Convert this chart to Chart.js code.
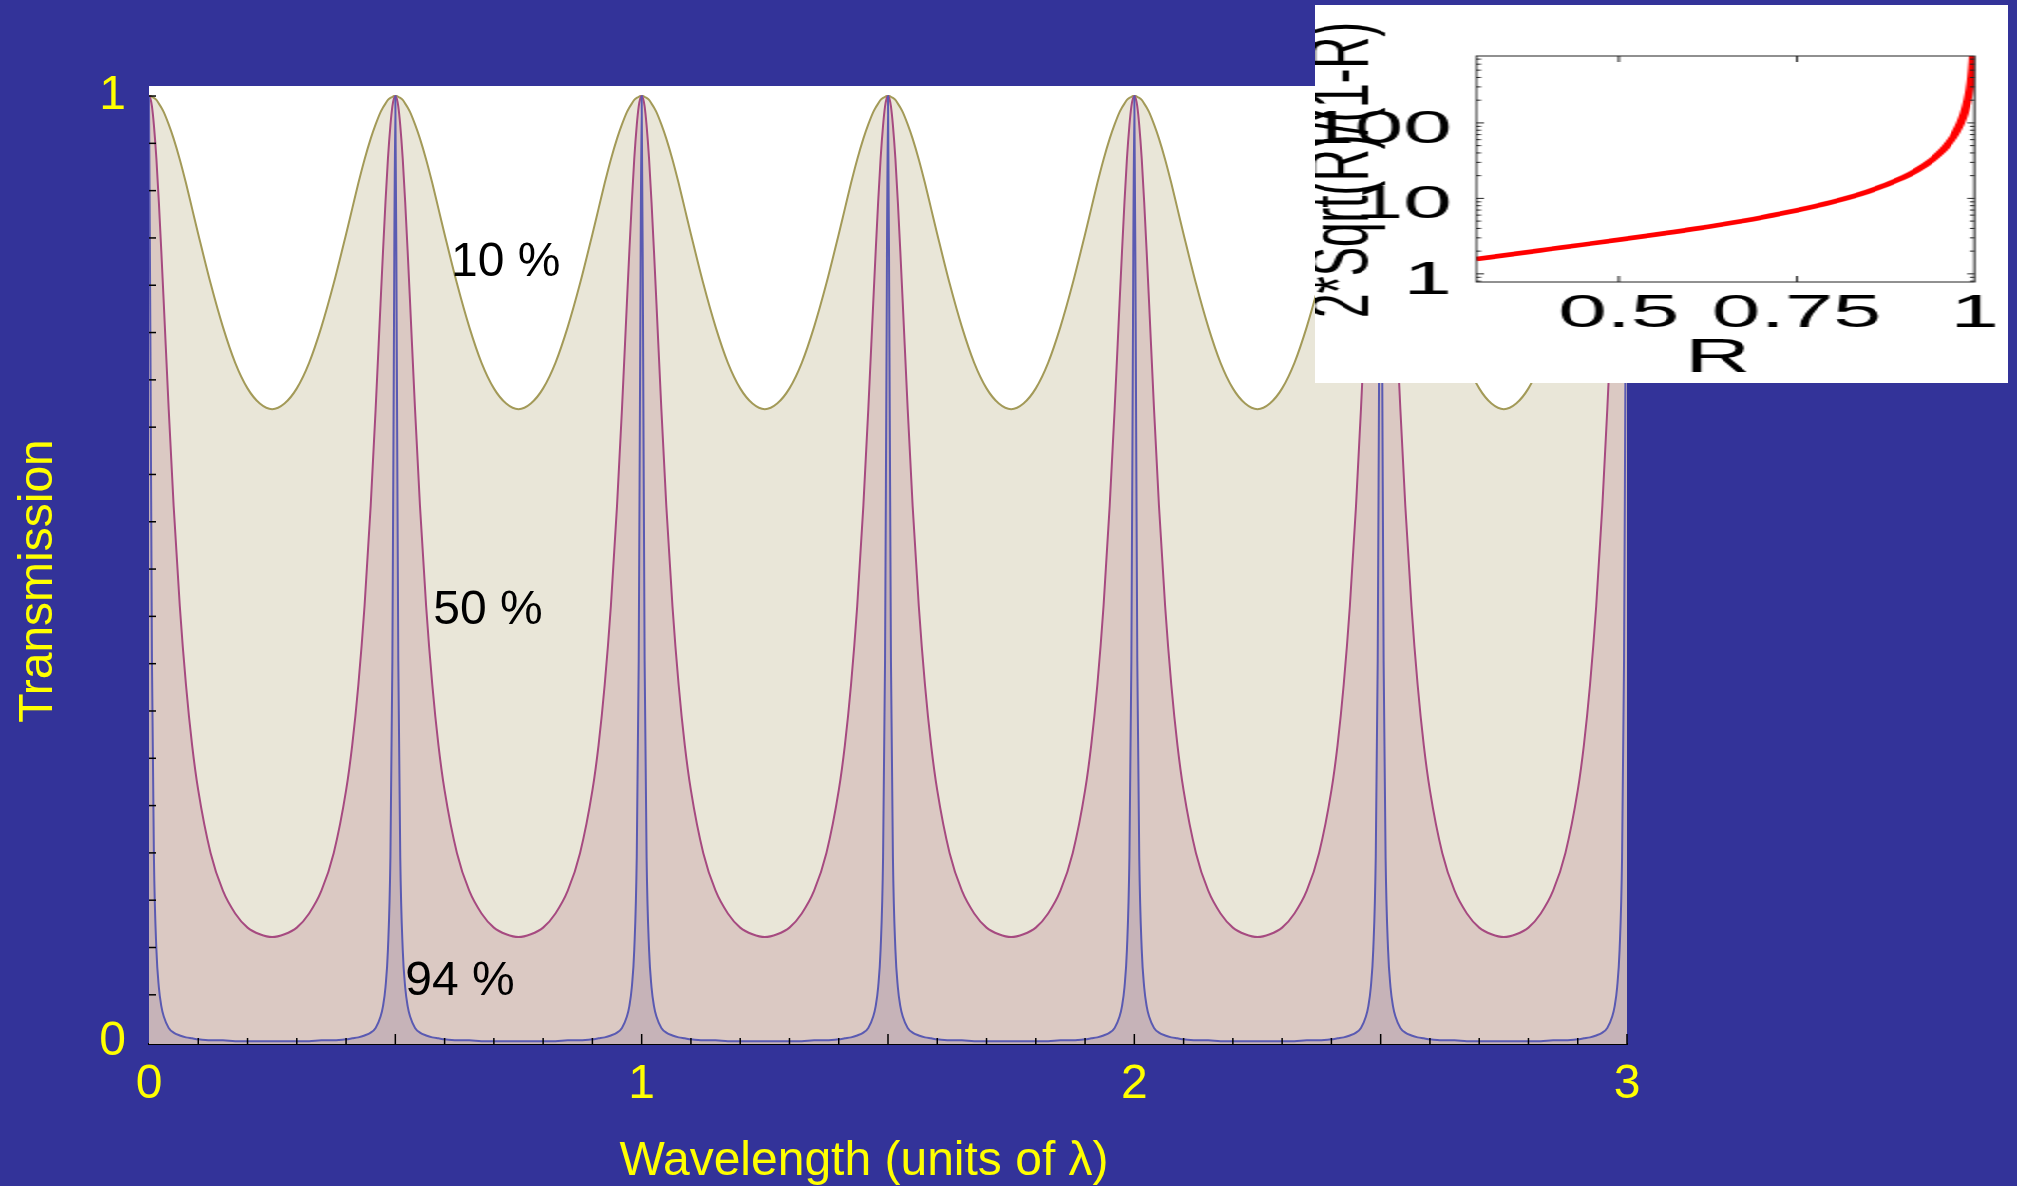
<!DOCTYPE html>
<html>
<head>
<meta charset="utf-8">
<title>Fabry-Perot transmission</title>
<script src="https://cdn.jsdelivr.net/npm/chart.js@4.4.1/dist/chart.umd.min.js"></script>
<style>
    body { margin: 0; background: #333399; overflow: hidden; }
    #main_chart { position: absolute; left: 0; top: 0; }
    /* the small finesse plot is drawn narrow and stretched sideways, like the original picture */
    #inset_box { position: absolute; left: 1315px; top: 5px; width: 365px; height: 378px;
                 background: #ffffff; transform: scaleX(1.9); transform-origin: 0 0; }
</style>
</head>
<body>
<canvas id="main_chart" width="2017" height="1186"></canvas>
<div id="inset_box"><canvas id="inset_chart" width="365" height="378"></canvas></div>
<script>

// wavelength positions (units of lambda), denser near each transmission peak
const wavelength = [
    0, 0.003, 0.006, 0.01, 0.015, 0.02, 0.025, 0.03, 0.04, 0.05, 0.0625, 0.075, 0.0875, 0.1, 0.125, 0.15, 0.175, 0.2, 0.225, 0.25, 0.275, 0.3, 0.325, 0.35, 0.375, 0.4, 0.4125, 0.425, 0.4375, 0.45, 0.46, 0.47, 0.475, 0.48, 0.485, 0.49, 0.494, 0.497,
    0.5, 0.503, 0.506, 0.51, 0.515, 0.52, 0.525, 0.53, 0.54, 0.55, 0.5625, 0.575, 0.5875, 0.6, 0.625, 0.65, 0.675, 0.7, 0.725, 0.75, 0.775, 0.8, 0.825, 0.85, 0.875, 0.9, 0.9125, 0.925, 0.9375, 0.95, 0.96, 0.97, 0.975, 0.98, 0.985, 0.99, 0.994, 0.997,
    1, 1.003, 1.006, 1.01, 1.015, 1.02, 1.025, 1.03, 1.04, 1.05, 1.0625, 1.075, 1.0875, 1.1, 1.125, 1.15, 1.175, 1.2, 1.225, 1.25, 1.275, 1.3, 1.325, 1.35, 1.375, 1.4, 1.4125, 1.425, 1.4375, 1.45, 1.46, 1.47, 1.475, 1.48, 1.485, 1.49, 1.494, 1.497,
    1.5, 1.503, 1.506, 1.51, 1.515, 1.52, 1.525, 1.53, 1.54, 1.55, 1.5625, 1.575, 1.5875, 1.6, 1.625, 1.65, 1.675, 1.7, 1.725, 1.75, 1.775, 1.8, 1.825, 1.85, 1.875, 1.9, 1.9125, 1.925, 1.9375, 1.95, 1.96, 1.97, 1.975, 1.98, 1.985, 1.99, 1.994, 1.997,
    2, 2.003, 2.006, 2.01, 2.015, 2.02, 2.025, 2.03, 2.04, 2.05, 2.0625, 2.075, 2.0875, 2.1, 2.125, 2.15, 2.175, 2.2, 2.225, 2.25, 2.275, 2.3, 2.325, 2.35, 2.375, 2.4, 2.4125, 2.425, 2.4375, 2.45, 2.46, 2.47, 2.475, 2.48, 2.485, 2.49, 2.494, 2.497,
    2.5, 2.503, 2.506, 2.51, 2.515, 2.52, 2.525, 2.53, 2.54, 2.55, 2.5625, 2.575, 2.5875, 2.6, 2.625, 2.65, 2.675, 2.7, 2.725, 2.75, 2.775, 2.8, 2.825, 2.85, 2.875, 2.9, 2.9125, 2.925, 2.9375, 2.95, 2.96, 2.97, 2.975, 2.98, 2.985, 2.99, 2.994, 2.997,
    3
];

// transmission for mirror reflectivity 10 %
const trans_10 = [
    1, 1, 0.999, 0.998, 0.996, 0.992, 0.988, 0.983, 0.97, 0.955, 0.933, 0.908, 0.881, 0.854, 0.802, 0.756, 0.718, 0.691, 0.675, 0.669, 0.675, 0.691, 0.718, 0.756, 0.802, 0.854, 0.881, 0.908, 0.933, 0.955, 0.97, 0.983, 0.988, 0.992, 0.996, 0.998, 0.999, 1,
    1, 1, 0.999, 0.998, 0.996, 0.992, 0.988, 0.983, 0.97, 0.955, 0.933, 0.908, 0.881, 0.854, 0.802, 0.756, 0.718, 0.691, 0.675, 0.669, 0.675, 0.691, 0.718, 0.756, 0.802, 0.854, 0.881, 0.908, 0.933, 0.955, 0.97, 0.983, 0.988, 0.992, 0.996, 0.998, 0.999, 1,
    1, 1, 0.999, 0.998, 0.996, 0.992, 0.988, 0.983, 0.97, 0.955, 0.933, 0.908, 0.881, 0.854, 0.802, 0.756, 0.718, 0.691, 0.675, 0.669, 0.675, 0.691, 0.718, 0.756, 0.802, 0.854, 0.881, 0.908, 0.933, 0.955, 0.97, 0.983, 0.988, 0.992, 0.996, 0.998, 0.999, 1,
    1, 1, 0.999, 0.998, 0.996, 0.992, 0.988, 0.983, 0.97, 0.955, 0.933, 0.908, 0.881, 0.854, 0.802, 0.756, 0.718, 0.691, 0.675, 0.669, 0.675, 0.691, 0.718, 0.756, 0.802, 0.854, 0.881, 0.908, 0.933, 0.955, 0.97, 0.983, 0.988, 0.992, 0.996, 0.998, 0.999, 1,
    1, 1, 0.999, 0.998, 0.996, 0.992, 0.988, 0.983, 0.97, 0.955, 0.933, 0.908, 0.881, 0.854, 0.802, 0.756, 0.718, 0.691, 0.675, 0.669, 0.675, 0.691, 0.718, 0.756, 0.802, 0.854, 0.881, 0.908, 0.933, 0.955, 0.97, 0.983, 0.988, 0.992, 0.996, 0.998, 0.999, 1,
    1, 1, 0.999, 0.998, 0.996, 0.992, 0.988, 0.983, 0.97, 0.955, 0.933, 0.908, 0.881, 0.854, 0.802, 0.756, 0.718, 0.691, 0.675, 0.669, 0.675, 0.691, 0.718, 0.756, 0.802, 0.854, 0.881, 0.908, 0.933, 0.955, 0.97, 0.983, 0.988, 0.992, 0.996, 0.998, 0.999, 1,
    1
];

// transmission for mirror reflectivity 50 %
const trans_50 = [
    1, 0.997, 0.989, 0.969, 0.934, 0.888, 0.836, 0.781, 0.669, 0.567, 0.461, 0.378, 0.314, 0.266, 0.2, 0.16, 0.136, 0.121, 0.114, 0.111, 0.114, 0.121, 0.136, 0.16, 0.2, 0.266, 0.314, 0.378, 0.461, 0.567, 0.669, 0.781, 0.836, 0.888, 0.934, 0.969, 0.989, 0.997,
    1, 0.997, 0.989, 0.969, 0.934, 0.888, 0.836, 0.781, 0.669, 0.567, 0.461, 0.378, 0.314, 0.266, 0.2, 0.16, 0.136, 0.121, 0.114, 0.111, 0.114, 0.121, 0.136, 0.16, 0.2, 0.266, 0.314, 0.378, 0.461, 0.567, 0.669, 0.781, 0.836, 0.888, 0.934, 0.969, 0.989, 0.997,
    1, 0.997, 0.989, 0.969, 0.934, 0.888, 0.836, 0.781, 0.669, 0.567, 0.461, 0.378, 0.314, 0.266, 0.2, 0.16, 0.136, 0.121, 0.114, 0.111, 0.114, 0.121, 0.136, 0.16, 0.2, 0.266, 0.314, 0.378, 0.461, 0.567, 0.669, 0.781, 0.836, 0.888, 0.934, 0.969, 0.989, 0.997,
    1, 0.997, 0.989, 0.969, 0.934, 0.888, 0.836, 0.781, 0.669, 0.567, 0.461, 0.378, 0.314, 0.266, 0.2, 0.16, 0.136, 0.121, 0.114, 0.111, 0.114, 0.121, 0.136, 0.16, 0.2, 0.266, 0.314, 0.378, 0.461, 0.567, 0.669, 0.781, 0.836, 0.888, 0.934, 0.969, 0.989, 0.997,
    1, 0.997, 0.989, 0.969, 0.934, 0.888, 0.836, 0.781, 0.669, 0.567, 0.461, 0.378, 0.314, 0.266, 0.2, 0.16, 0.136, 0.121, 0.114, 0.111, 0.114, 0.121, 0.136, 0.16, 0.2, 0.266, 0.314, 0.378, 0.461, 0.567, 0.669, 0.781, 0.836, 0.888, 0.934, 0.969, 0.989, 0.997,
    1, 0.997, 0.989, 0.969, 0.934, 0.888, 0.836, 0.781, 0.669, 0.567, 0.461, 0.378, 0.314, 0.266, 0.2, 0.16, 0.136, 0.121, 0.114, 0.111, 0.114, 0.121, 0.136, 0.16, 0.2, 0.266, 0.314, 0.378, 0.461, 0.567, 0.669, 0.781, 0.836, 0.888, 0.934, 0.969, 0.989, 0.997,
    1
];

// transmission for mirror reflectivity 94 %
const trans_94 = [
    1, 0.729, 0.403, 0.195, 0.098, 0.058, 0.038, 0.027, 0.015, 0.01, 0.007, 0.005, 0.004, 0.003, 0.002, 0.002, 0.001, 0.001, 0.001, 0.001, 0.001, 0.001, 0.001, 0.002, 0.002, 0.003, 0.004, 0.005, 0.007, 0.01, 0.015, 0.027, 0.038, 0.058, 0.098, 0.195, 0.403, 0.729,
    1, 0.729, 0.403, 0.195, 0.098, 0.058, 0.038, 0.027, 0.015, 0.01, 0.007, 0.005, 0.004, 0.003, 0.002, 0.002, 0.001, 0.001, 0.001, 0.001, 0.001, 0.001, 0.001, 0.002, 0.002, 0.003, 0.004, 0.005, 0.007, 0.01, 0.015, 0.027, 0.038, 0.058, 0.098, 0.195, 0.403, 0.729,
    1, 0.729, 0.403, 0.195, 0.098, 0.058, 0.038, 0.027, 0.015, 0.01, 0.007, 0.005, 0.004, 0.003, 0.002, 0.002, 0.001, 0.001, 0.001, 0.001, 0.001, 0.001, 0.001, 0.002, 0.002, 0.003, 0.004, 0.005, 0.007, 0.01, 0.015, 0.027, 0.038, 0.058, 0.098, 0.195, 0.403, 0.729,
    1, 0.729, 0.403, 0.195, 0.098, 0.058, 0.038, 0.027, 0.015, 0.01, 0.007, 0.005, 0.004, 0.003, 0.002, 0.002, 0.001, 0.001, 0.001, 0.001, 0.001, 0.001, 0.001, 0.002, 0.002, 0.003, 0.004, 0.005, 0.007, 0.01, 0.015, 0.027, 0.038, 0.058, 0.098, 0.195, 0.403, 0.729,
    1, 0.729, 0.403, 0.195, 0.098, 0.058, 0.038, 0.027, 0.015, 0.01, 0.007, 0.005, 0.004, 0.003, 0.002, 0.002, 0.001, 0.001, 0.001, 0.001, 0.001, 0.001, 0.001, 0.002, 0.002, 0.003, 0.004, 0.005, 0.007, 0.01, 0.015, 0.027, 0.038, 0.058, 0.098, 0.195, 0.403, 0.729,
    1, 0.729, 0.403, 0.195, 0.098, 0.058, 0.038, 0.027, 0.015, 0.01, 0.007, 0.005, 0.004, 0.003, 0.002, 0.002, 0.001, 0.001, 0.001, 0.001, 0.001, 0.001, 0.001, 0.002, 0.002, 0.003, 0.004, 0.005, 0.007, 0.01, 0.015, 0.027, 0.038, 0.058, 0.098, 0.195, 0.403, 0.729,
    1
];

// curve labels, placed in data units (x, y of text baseline)
const curve_labels = ['10 %', '50 %', '94 %'];
const curve_label_x = [0.613, 0.577, 0.52];
const curve_label_y = [0.81, 0.442, 0.05];

const x_tick_values = [0, 1, 2, 3];
const y_tick_values = [0, 1];

// inset: 2*Sqrt(R)/(1-R) against R
const reflectivity = [0.3, 0.35, 0.4, 0.45, 0.5, 0.55, 0.6, 0.65, 0.7, 0.75, 0.8, 0.85, 0.9, 0.92, 0.94, 0.95, 0.96, 0.97, 0.975, 0.98, 0.985, 0.99, 0.993, 0.995, 0.997, 0.998];
const finesse = [1.565, 1.82, 2.108, 2.439, 2.828, 3.296, 3.873, 4.607, 5.578, 6.928, 8.944, 12.29, 18.97, 23.98, 32.32, 38.99, 48.99, 65.66, 78.99, 98.99, 132.3, 199, 284.7, 399, 665.7, 999];
const inset_x_ticks = [0.5, 0.75, 1];
const inset_y_ticks = [1, 10, 100];

const font_family = '"Liberation Sans", Arial, Helvetica, sans-serif';

// pair x and y arrays into chart.js points
function makePoints(xs, ys){
    return xs.map((x, i) => ({x: x, y: ys[i]}));
};

// white plot area, inward tick marks, curve labels and axis titles
const main_decor = {
    id: 'main_decor',
    beforeDraw(chart){
        const {ctx, chartArea} = chart;
        ctx.save();
        ctx.fillStyle = '#ffffff';
        ctx.fillRect(chartArea.left, chartArea.top, chartArea.right - chartArea.left, chartArea.bottom - chartArea.top);
        ctx.restore();
    },
    afterDatasetsDraw(chart){
        const {ctx, chartArea, scales} = chart;
        ctx.save();
        ctx.strokeStyle = '#000000';
        ctx.lineWidth = 1.5;

        // x minor ticks every 0.1, longer every 0.5
        for(let i = 1; i <= 30; i++){
            const px = scales.x.getPixelForValue(i / 10);
            const len = (i % 5 === 0) ? 10 : 6;
            ctx.beginPath();
            ctx.moveTo(px, chartArea.bottom);
            ctx.lineTo(px, chartArea.bottom - len);
            ctx.stroke();
        };
        // y minor ticks every 0.05
        for(let i = 1; i <= 20; i++){
            const py = scales.y.getPixelForValue(i / 20);
            ctx.beginPath();
            ctx.moveTo(chartArea.left, py);
            ctx.lineTo(chartArea.left + 7, py);
            ctx.stroke();
        };

        // labels of the three curves
        ctx.fillStyle = '#000000';
        ctx.font = '48px ' + font_family;
        ctx.textAlign = 'left';
        ctx.textBaseline = 'alphabetic';
        curve_labels.forEach((text, i) => {
            ctx.fillText(text, scales.x.getPixelForValue(curve_label_x[i]), scales.y.getPixelForValue(curve_label_y[i]));
        });

        // axis titles
        ctx.fillStyle = '#ffff00';
        ctx.textAlign = 'center';
        ctx.fillText('Wavelength (units of λ)', (chartArea.left + chartArea.right) / 2 - 24, chartArea.bottom + 131);
        ctx.translate(chartArea.left - 110, (chartArea.top + chartArea.bottom) / 2 + 16);
        ctx.rotate(-Math.PI / 2);
        ctx.textBaseline = 'middle';
        ctx.fillText('Transmission', 0, 0);
        ctx.restore();
    }
};

// frame, inward ticks and axis titles of the inset
const inset_decor = {
    id: 'inset_decor',
    afterDatasetsDraw(chart){
        const {ctx, chartArea, scales} = chart;
        ctx.save();
        ctx.strokeStyle = '#222222';
        ctx.lineWidth = 1;
        ctx.strokeRect(chartArea.left, chartArea.top, chartArea.right - chartArea.left, chartArea.bottom - chartArea.top);

        [0.5, 0.75].forEach((v) => {
            const px = scales.x.getPixelForValue(v);
            ctx.beginPath();
            ctx.moveTo(px, chartArea.bottom); ctx.lineTo(px, chartArea.bottom - 6);
            ctx.moveTo(px, chartArea.top); ctx.lineTo(px, chartArea.top + 6);
            ctx.stroke();
        });
        [0.8, 0.9, 1, 2, 3, 4, 5, 6, 7, 8, 9, 10, 20, 30, 40, 50, 60, 70, 80, 90, 100, 200, 300, 400, 500, 600, 700].forEach((v) => {
            const py = scales.y.getPixelForValue(v);
            const len = (v === 1 || v === 10 || v === 100) ? 4 : 2.5;
            ctx.beginPath();
            ctx.moveTo(chartArea.left, py); ctx.lineTo(chartArea.left + len, py);
            ctx.moveTo(chartArea.right, py); ctx.lineTo(chartArea.right - len, py);
            ctx.stroke();
        });

        ctx.fillStyle = '#000000';
        ctx.font = '48px ' + font_family;
        ctx.textAlign = 'center';
        ctx.textBaseline = 'alphabetic';
        ctx.fillText('R', (chartArea.left + chartArea.right) / 2 - 4, 367);
        ctx.font = '44px ' + font_family;
        ctx.translate(16, 165);
        ctx.rotate(-Math.PI / 2);
        ctx.textBaseline = 'middle';
        ctx.fillText('2*Sqrt(R)/(1-R)', 0, 0);
        ctx.restore();
    }
};

// main transmission chart
const main_chart = new Chart(document.getElementById('main_chart'), {
    type: 'line',
    data: {
        datasets: [{
            label: '94 %',
            data: makePoints(wavelength, trans_94),
            borderColor: '#5a5ab2',
            backgroundColor: '#c6b3b8',
            fill: 'start'
        }, {
            label: '50 %',
            data: makePoints(wavelength, trans_50),
            borderColor: '#a64a80',
            backgroundColor: '#dbc9c3',
            fill: 'start'
        }, {
            label: '10 %',
            data: makePoints(wavelength, trans_10),
            borderColor: '#a39a58',
            backgroundColor: '#e9e6d8',
            fill: 'start'
        }]
    },
    options: {
        responsive: false,
        animation: false,
        layout: {padding: {left: 0, top: 86, right: 390, bottom: 0}},
        elements: {
            point: {radius: 0},
            line: {borderWidth: 2, cubicInterpolationMode: 'monotone'}
        },
        plugins: {legend: {display: false}, tooltip: {enabled: false}},
        scales: {
            x: {
                type: 'linear',
                min: 0,
                max: 3,
                afterBuildTicks: (scale) => { scale.ticks = x_tick_values.map((v) => ({value: v})); },
                afterFit: (scale) => { scale.height = 142; },
                grid: {display: false, drawTicks: false},
                border: {display: true, color: '#000000', width: 2},
                ticks: {
                    color: '#ffff00',
                    font: {size: 48, family: font_family},
                    padding: 12,
                    maxRotation: 0,
                    autoSkip: false,
                    callback: (value) => String(value)
                }
            },
            y: {
                type: 'linear',
                min: -0.002,
                max: 1.0106,
                afterBuildTicks: (scale) => { scale.ticks = y_tick_values.map((v) => ({value: v})); },
                afterFit: (scale) => { scale.width = 149; },
                grid: {display: false, drawTicks: false},
                border: {display: false},
                ticks: {
                    color: '#ffff00',
                    font: {size: 48, family: font_family},
                    padding: 23,
                    autoSkip: false,
                    callback: (value) => String(value)
                }
            }
        }
    },
    plugins: [main_decor]
});

// inset chart, log scale
const inset_chart = new Chart(document.getElementById('inset_chart'), {
    type: 'line',
    data: {
        datasets: [{
            label: '2*Sqrt(R)/(1-R)',
            data: makePoints(reflectivity, finesse),
            borderColor: '#ff0000',
            borderWidth: 4.5,
            pointRadius: 0,
            fill: false,
            cubicInterpolationMode: 'monotone'
        }]
    },
    options: {
        responsive: false,
        animation: false,
        layout: {padding: {left: 0, top: 51, right: 17, bottom: 0}},
        plugins: {legend: {display: false}, tooltip: {enabled: false}},
        scales: {
            x: {
                type: 'linear',
                min: 0.3,
                max: 1,
                afterBuildTicks: (scale) => { scale.ticks = inset_x_ticks.map((v) => ({value: v})); },
                afterFit: (scale) => { scale.height = 101; },
                grid: {display: false, drawTicks: false},
                border: {display: false},
                ticks: {
                    color: '#000000',
                    font: {size: 46, family: font_family},
                    padding: 5,
                    maxRotation: 0,
                    autoSkip: false,
                    callback: (value) => String(value)
                }
            },
            y: {
                type: 'logarithmic',
                min: 0.78,
                max: 770,
                afterBuildTicks: (scale) => { scale.ticks = inset_y_ticks.map((v) => ({value: v})); },
                afterFit: (scale) => { scale.width = 85; },
                grid: {display: false, drawTicks: false},
                border: {display: false},
                ticks: {
                    color: '#000000',
                    font: {size: 46, family: font_family},
                    padding: 13,
                    labelOffset: 7,
                    autoSkip: false,
                    callback: (value) => String(value)
                }
            }
        }
    },
    plugins: [inset_decor]
});
</script>
</body>
</html>
